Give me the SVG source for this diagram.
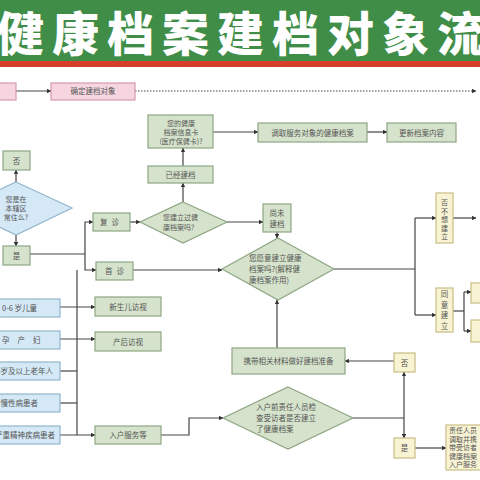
<svg xmlns="http://www.w3.org/2000/svg" width="480" height="480" viewBox="0 0 480 480">
<defs>
<marker id="ar" viewBox="0 0 6 6" refX="5.5" refY="3" markerWidth="4.5" markerHeight="4.5" orient="auto" markerUnits="userSpaceOnUse"><path d="M0,0 L6,3 L0,6 z" fill="#333"/></marker>
</defs>
<style>
.g{fill:#d5e3cc;stroke:#8ea584;stroke-width:1.2}
.b{fill:#d4e8f5;stroke:#93b6cd;stroke-width:1.2}
.p{fill:#f6d5e0;stroke:#d49aae;stroke-width:1.2}
.y{fill:#f8f4d3;stroke:#c9bd85;stroke-width:1.2}
.c{fill:none;stroke:#444;stroke-width:1.2}
.d{fill:none;stroke:#444;stroke-width:1.2;stroke-dasharray:1.5 1.5}
text{font-family:"Noto Sans CJK SC","Noto Sans",sans-serif;font-size:7.5px;fill:#555}
.m{text-anchor:middle}
.s{font-size:7px}
</style>
<rect x="0" y="0" width="480" height="62" fill="#3f8d47"/>
<rect x="0" y="61" width="480" height="6" fill="#d63d2c"/>
<text x="-3" y="51" style="font-size:47px;font-weight:900;fill:#fff;letter-spacing:8px">健康档案建档对象流</text>

<g id="connectors">
<path class="c" d="M16,91 H51" marker-end="url(#ar)"/>
<path class="d" d="M135,91 H476" marker-end="url(#ar)"/>
<path class="c" d="M16,182 V170" marker-end="url(#ar)"/>
<path class="c" d="M16,235 V246" marker-end="url(#ar)"/>
<path class="c" d="M29,254 H85"/>
<path class="c" d="M85,254 V222 H93" marker-end="url(#ar)"/>
<path class="c" d="M85,254 V270 H96" marker-end="url(#ar)"/>
<path class="c" d="M77,270 V435"/>
<path class="c" d="M60,307 H95" marker-end="url(#ar)"/>
<path class="c" d="M60,339 H95" marker-end="url(#ar)"/>
<path class="c" d="M60,371 H77"/>
<path class="c" d="M60,403 H77"/>
<path class="c" d="M60,435 H95" marker-end="url(#ar)"/>
<path class="c" d="M161,435 H189 V418 H223" marker-end="url(#ar)"/>
<path class="c" d="M130,222 H140" marker-end="url(#ar)"/>
<path class="c" d="M183,202 V183" marker-end="url(#ar)"/>
<path class="c" d="M183,166 V148" marker-end="url(#ar)"/>
<path class="c" d="M213,132 H258" marker-end="url(#ar)"/>
<path class="c" d="M367,132 H387" marker-end="url(#ar)"/>
<path class="c" d="M227,222 H263" marker-end="url(#ar)"/>
<path class="c" d="M277,232 V238" marker-end="url(#ar)"/>
<path class="c" d="M133,270 H222" marker-end="url(#ar)"/>
<path class="c" d="M334,269 H415"/>
<path class="c" d="M415,218 V315"/>
<path class="c" d="M415,218 H436" marker-end="url(#ar)"/>
<path class="c" d="M415,315 H436" marker-end="url(#ar)"/>
<path class="c" d="M453,218 H476" marker-end="url(#ar)"/>
<path class="c" d="M453,311 H464"/>
<path class="c" d="M464,292 V331"/>
<path class="c" d="M464,292 H471" marker-end="url(#ar)"/>
<path class="c" d="M464,331 H471" marker-end="url(#ar)"/>
<path class="c" d="M277,348 V300" marker-end="url(#ar)"/>
<path class="c" d="M353,418 H404"/>
<path class="c" d="M404,418 V372" marker-end="url(#ar)"/>
<path class="c" d="M404,418 V438" marker-end="url(#ar)"/>
<path class="c" d="M394,361 H345" marker-end="url(#ar)"/>
<path class="c" d="M415,448 H446" marker-end="url(#ar)"/>
</g>

<g id="n-start"><rect class="p" x="-10" y="83" width="26" height="17"/></g>
<g id="n-confirm"><rect class="p" x="51" y="83" width="84" height="17"/><text class="m" x="93" y="94">确定建档对象</text></g>

<g id="n-no1"><rect class="g" x="3" y="151" width="27" height="19"/><text class="m" x="16.5" y="163.5">否</text></g>
<g id="n-q-resident"><polygon class="b" points="16,182 72,208 16,235 -40,208"/>
<text class="m s" x="16" y="202">您是在</text><text class="m s" x="16" y="211">本辖区</text><text class="m s" x="16" y="220">常住么?</text></g>
<g id="n-yes1"><rect class="g" x="3" y="246" width="27" height="19"/><text class="m" x="16.5" y="258.5">是</text></g>

<g id="n-revisit"><rect class="g" x="93" y="213" width="37" height="18"/><text class="m" x="111.5" y="225" style="letter-spacing:4px">复诊</text></g>
<g id="n-first"><rect class="g" x="96" y="262" width="37" height="18"/><text class="m" x="116.5" y="274" style="letter-spacing:4px">首诊</text></g>

<g id="n-child"><rect class="b" x="-10" y="299" width="70" height="18"/><text x="2" y="311">0-6 岁儿童</text></g>
<g id="n-preg"><rect class="b" x="-10" y="331" width="70" height="18"/><text x="2" y="343" style="letter-spacing:8px">孕产妇</text></g>
<g id="n-elder"><rect class="b" x="-10" y="362" width="70" height="18"/><text x="53" y="374" style="text-anchor:end">65岁及以上老年人</text></g>
<g id="n-chronic"><rect class="b" x="-10" y="394" width="70" height="18"/><text x="38" y="406" style="text-anchor:end">慢性病患者</text></g>
<g id="n-mental"><rect class="b" x="-10" y="426" width="70" height="18"/><text x="55" y="438" style="text-anchor:end">严重精神疾病患者</text></g>

<g id="n-newborn"><rect class="g" x="95" y="297" width="66" height="19"/><text class="m" x="128" y="309.5">新生儿访视</text></g>
<g id="n-postpartum"><rect class="g" x="95" y="332" width="66" height="19"/><text class="m" x="128" y="344.5">产后访视</text></g>
<g id="n-home"><rect class="g" x="95" y="426" width="66" height="18"/><text class="m" x="128" y="438">入户服务等</text></g>

<g id="n-card"><rect class="g" x="148" y="115" width="65" height="33"/>
<text class="m s" x="181" y="125.5">您的健康</text><text class="m s" x="181" y="134.5">档案信息卡</text><text class="m s" x="181" y="143.5">(医疗保健卡)?</text></g>
<g id="n-built"><rect class="g" x="148" y="166" width="65" height="17"/><text class="m" x="180.5" y="177.5">已经建档</text></g>
<g id="n-q-built"><polygon class="g" points="183,202 227,222 183,243 140,222"/>
<text class="s" x="163" y="220">您建立过健</text><text class="s" x="163" y="229.5">康档案吗?</text></g>
<g id="n-fetch"><rect class="g" x="258" y="123" width="109" height="19"/><text class="m" x="312.5" y="135.5">调取服务对象的健康档案</text></g>
<g id="n-update"><rect class="g" x="387" y="123" width="69" height="19"/><text class="m" x="421.5" y="135.5">更新档案内容</text></g>
<g id="n-notyet"><rect class="g" x="263" y="204" width="28" height="28"/><text class="m" x="277" y="216">尚未</text><text class="m" x="277" y="226.5">建档</text></g>

<g id="n-q-willing"><polygon class="g" points="278,238 334,269 278,300 222,269"/>
<text x="249" y="261">您愿意建立健康</text><text x="249" y="272">档案吗?(解释健</text><text x="249" y="283">康档案作用)</text></g>

<g id="n-refuse"><rect class="y" x="436" y="193" width="17" height="50"/>
<text class="m s" x="444.5" y="205">否</text><text class="m s" x="444.5" y="213.5">不</text><text class="m s" x="444.5" y="222">想</text><text class="m s" x="444.5" y="230.5">建</text><text class="m s" x="444.5" y="239">立</text></g>
<g id="n-agree"><rect class="y" x="436" y="288" width="17" height="44"/>
<text class="m" x="444.5" y="297">同</text><text class="m" x="444.5" y="307.5">意</text><text class="m" x="444.5" y="318">建</text><text class="m" x="444.5" y="328.5">立</text></g>
<g id="n-agree-a"><rect class="y" x="471" y="283" width="20" height="20"/></g>
<g id="n-agree-b"><rect class="y" x="471" y="320" width="20" height="22"/></g>

<g id="n-prepare"><rect class="g" x="232" y="348" width="113" height="26"/><text class="m" x="288.5" y="364">携带相关材料做好建档准备</text></g>
<g id="n-no2"><rect class="y" x="394" y="353" width="21" height="19"/><text class="m" x="404.5" y="365.5">否</text></g>
<g id="n-q-home"><polygon class="g" points="288,387 353,418 288,449 223,418"/>
<text x="256" y="410">入户前责任人员检</text><text x="256" y="421">查受访者是否建立</text><text x="256" y="432">了健康档案</text></g>
<g id="n-yes2"><rect class="y" x="394" y="438" width="21" height="20"/><text class="m" x="404.5" y="451">是</text></g>
<g id="n-carry"><rect class="y" x="446" y="425" width="44" height="45"/>
<text class="s" x="449" y="433">责任人员</text><text class="s" x="449" y="441.5">调取并携</text><text class="s" x="449" y="450">带受访者</text><text class="s" x="449" y="458.5">健康档案</text><text class="s" x="449" y="467">入户服务</text></g>
</svg>
